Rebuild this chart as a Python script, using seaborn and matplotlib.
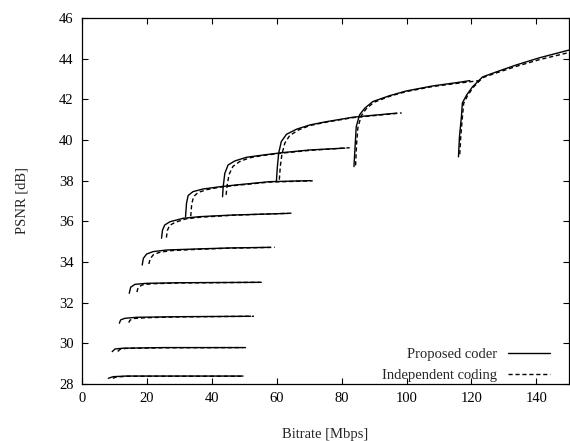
import numpy as np
import pandas as pd
import seaborn as sns
import matplotlib.pyplot as plt
from matplotlib.lines import Line2D

# bitrate [Mbps] / PSNR [dB], one list per operating curve
proposed_rate = [
    [8.1, 9.6, 13.7, 49.6],
    [9.3, 10.15, 12.7, 25.0, 49.5],
    [11.5, 11.9, 13.2, 16.8, 30.2, 52.0],
    [14.55, 15.0, 16.3, 19.9, 30.2, 54.8],
    [18.55, 18.9, 19.9, 21.9, 26.1, 35.3, 45.5, 58.0],
    [24.5, 24.8, 25.5, 27.1, 31.2, 36.3, 46.6, 63.5],
    [31.9, 32.2, 32.7, 34.2, 37.3, 42.5, 47.6, 57.8, 70.5],
    [43.3, 43.5, 44.0, 45.0, 47.1, 50.7, 55.8, 61.9, 70.2, 81.0],
    [59.9, 60.2, 60.6, 61.4, 63.0, 66.1, 70.2, 75.3, 83.5, 90.7, 97.0],
    [83.8, 84.2, 84.5, 85.5, 87.1, 89.6, 94.8, 99.9, 108.1, 116.3, 119.5],
    [116.0, 116.3, 116.9, 117.2, 118.5, 120.3, 123.4, 127.7, 133.8, 140.9, 150.0],
]
proposed_psnr = [
    [28.28, 28.36, 28.39, 28.39],
    [29.59, 29.72, 29.76, 29.79, 29.79],
    [30.99, 31.15, 31.23, 31.28, 31.31, 31.33],
    [32.46, 32.76, 32.9, 32.95, 32.98, 33.0],
    [33.85, 34.18, 34.39, 34.51, 34.59, 34.64, 34.69, 34.72],
    [35.17, 35.57, 35.82, 35.98, 36.15, 36.23, 36.31, 36.39],
    [36.23, 36.89, 37.27, 37.46, 37.59, 37.7, 37.79, 37.95, 38.0],
    [37.21, 37.7, 38.36, 38.77, 38.97, 39.15, 39.26, 39.38, 39.51, 39.6],
    [37.99, 38.69, 39.35, 39.92, 40.28, 40.53, 40.74, 40.9, 41.12, 41.23, 41.32],
    [38.69, 39.84, 40.66, 41.23, 41.56, 41.89, 42.18, 42.41, 42.66, 42.84, 42.92],
    [39.17, 40.15, 41.13, 41.82, 42.21, 42.61, 43.1, 43.35, 43.69, 44.04, 44.42],
]

independent_rate = [
    [9.5, 10.5, 13.7, 49.0],
    [11.0, 11.8, 13.5, 25.0, 51.0],
    [14.4, 14.8, 16.0, 20.0, 30.2, 53.0],
    [16.9, 17.3, 18.5, 21.5, 30.2, 56.0],
    [20.6, 21.0, 22.0, 24.0, 27.5, 35.3, 45.5, 59.4],
    [26.0, 26.3, 27.0, 28.7, 32.0, 36.3, 46.6, 64.6],
    [33.5, 33.8, 34.4, 35.8, 38.5, 42.5, 47.6, 57.8, 71.1],
    [44.4, 44.7, 45.3, 46.5, 48.5, 51.5, 55.8, 61.9, 70.2, 82.5],
    [60.8, 61.1, 61.6, 62.5, 64.0, 66.8, 70.2, 75.3, 83.5, 90.7, 98.5],
    [84.3, 84.6, 85.0, 86.0, 87.5, 89.9, 94.8, 99.9, 108.1, 116.3, 122.5],
    [116.4, 116.7, 117.2, 117.6, 118.8, 120.5, 123.4, 127.7, 133.8, 140.9, 150.0],
]
independent_psnr = [
    [28.28, 28.34, 28.38, 28.38],
    [29.6, 29.71, 29.75, 29.78, 29.79],
    [31.02, 31.14, 31.22, 31.26, 31.3, 31.33],
    [32.52, 32.74, 32.87, 32.93, 32.97, 33.0],
    [33.9, 34.16, 34.36, 34.48, 34.56, 34.62, 34.68, 34.72],
    [35.2, 35.55, 35.8, 35.95, 36.12, 36.2, 36.3, 36.4],
    [36.25, 36.85, 37.22, 37.42, 37.56, 37.68, 37.77, 37.93, 37.99],
    [37.3, 37.75, 38.3, 38.7, 38.93, 39.12, 39.24, 39.36, 39.49, 39.62],
    [38.05, 38.7, 39.3, 39.85, 40.22, 40.5, 40.71, 40.88, 41.1, 41.21, 41.33],
    [38.75, 39.8, 40.6, 41.18, 41.52, 41.85, 42.15, 42.38, 42.63, 42.8, 42.92],
    [39.3, 40.15, 41.1, 41.8, 42.18, 42.58, 43.06, 43.3, 43.62, 43.95, 44.3],
]

rows = []
for name, rates, psnrs in [('Proposed coder', proposed_rate, proposed_psnr),
                           ('Independent coding', independent_rate, independent_psnr)]:
    for i, (r, p) in enumerate(zip(rates, psnrs)):
        for x, y in zip(r, p):
            rows.append({'coder': name, 'curve': f'{name}_{i}', 'rate': x, 'psnr': y})
df = pd.DataFrame(rows)

sns.set_style('ticks')
plt.rcParams['font.family'] = ['Liberation Serif', 'DejaVu Serif']
plt.rcParams['font.size'] = 10.5

fig = plt.figure(figsize=(5.7, 4.41), dpi=100)
ax = fig.add_axes([0.1439, 0.1293, 0.854, 0.8299])

dash_map = {'Proposed coder': '', 'Independent coding': (3, 2)}
sns.lineplot(data=df, x='rate', y='psnr', units='curve', estimator=None, sort=False,
             style='coder', dashes=dash_map, color='black', linewidth=1.0,
             legend=False, ax=ax)

ax.set_xlim(0, 150)
ax.set_ylim(28, 46)
ax.set_xticks(np.arange(0, 141, 20))
ax.set_yticks(np.arange(28, 47, 2))
ax.tick_params(direction='in', length=4, width=0.8, top=True, right=True, colors='black',
               labelsize=10.5, pad=6)
for s in ax.spines.values():
    s.set_color('black')
    s.set_linewidth(0.9)
ax.set_xlabel('Bitrate [Mbps]', labelpad=16)
ax.set_ylabel('PSNR [dB]', labelpad=22)

handles = [Line2D([], [], color='black', lw=1.0),
           Line2D([], [], color='black', lw=1.0, linestyle=(0, (3, 2)))]
ax.legend(handles, ['Proposed coder', 'Independent coding'], loc='lower right',
          bbox_to_anchor=(0.961, 0.005), frameon=False, markerfirst=False,
          handlelength=2.9, handletextpad=0.7, borderpad=0, borderaxespad=0,
          labelspacing=0.55, fontsize=10.5)

plt.savefig('out.png', dpi=100)
